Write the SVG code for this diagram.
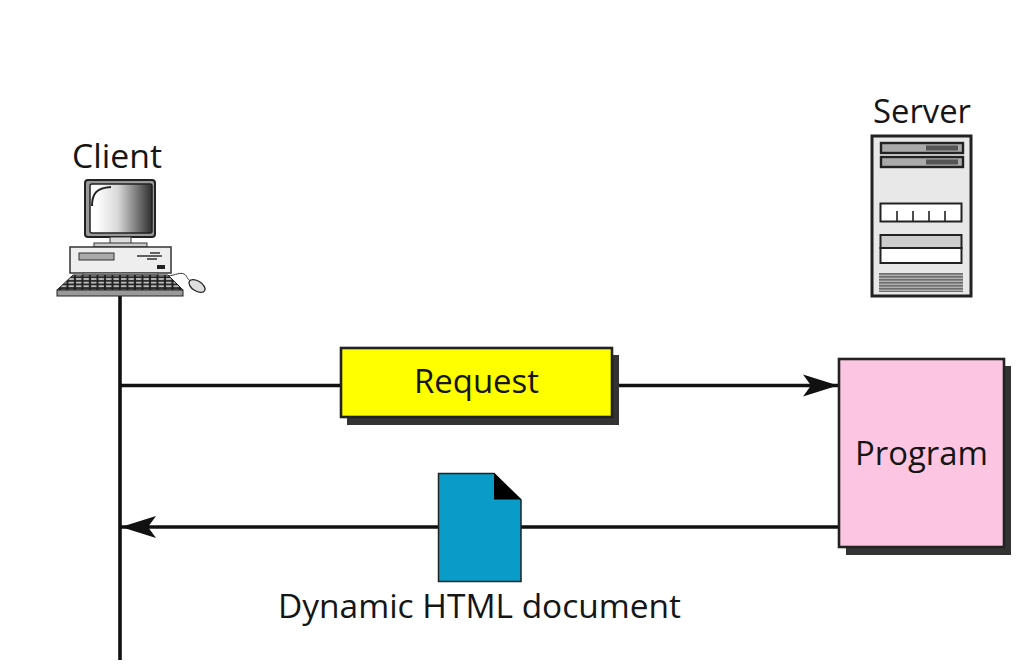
<svg xmlns="http://www.w3.org/2000/svg" width="1026" height="668" viewBox="0 0 1026 668">
<style>
.t{font-family:"Open Sans","Noto Sans","Liberation Sans",sans-serif;font-size:33.5px;fill:#151515}
.c{stroke:#111;stroke-width:3.6;fill:none}
.box{stroke:#222;stroke-width:2.6}
.sh{fill:#333}
</style>
<defs>
<linearGradient id="scr" x1="0" x2="1" y1="0" y2="0"><stop offset="0.1" stop-color="#fff"/><stop offset="0.45" stop-color="#d8d8d8"/><stop offset="1" stop-color="#2e2e2e"/></linearGradient>
<pattern id="keys" width="7.5" height="3.6" patternUnits="userSpaceOnUse"><rect width="7.5" height="3.6" fill="#222"/><rect x="1" y="0.9" width="5.4" height="1.9" fill="#bbb"/></pattern>
<pattern id="grille" width="4" height="3" patternUnits="userSpaceOnUse"><rect width="4" height="3" fill="#b0b0b0"/><rect width="4" height="1.6" fill="#6e6e6e"/></pattern>
<marker id="arrow" markerUnits="userSpaceOnUse" markerWidth="36" markerHeight="24" refX="35" refY="12" orient="auto-start-reverse"><path d="M0 1 L35 12 L0 23 L8 12 Z" fill="#111"/></marker>
</defs>
<rect width="1026" height="668" fill="#fff"/>
<g id="connectors">
<path class="c" d="M120 296V660"/>
<path class="c" d="M120 385.500H838" marker-end="url(#arrow)"/>
<path class="c" d="M838 527H121" marker-end="url(#arrow)"/>
</g>
<g id="client">
<rect x="85" y="180" width="70" height="57" rx="3" fill="#999" stroke="#222" stroke-width="2"/>
<rect x="90" y="184" width="62" height="49" rx="2" fill="url(#scr)" stroke="#222" stroke-width="1.5"/>
<path d="M92 206C92 194 96 188 111 187" fill="none" stroke="#222" stroke-width="2"/>
<rect x="110" y="237" width="21" height="7" fill="#ddd" stroke="#333"/>
<rect x="94" y="243" width="53" height="4" fill="#ccc" stroke="#333"/>
<rect x="70" y="247" width="101" height="26" fill="#eee" stroke="#333" stroke-width="1.5"/>
<rect x="79" y="253" width="35" height="7" fill="#aaa" stroke="#333"/>
<path d="M137 256H162M147 259H157M150 253L160 253" stroke="#333" stroke-width="1.5" fill="none"/>
<rect x="157" y="265" width="8" height="4" fill="#222"/>
<rect x="83" y="273" width="75" height="3" fill="#aaa" stroke="#444" stroke-width="0.8"/>
<path d="M73 275H168L183 290H57Z" fill="url(#keys)" stroke="#222"/>
<rect x="57" y="290" width="126" height="6" fill="#999" stroke="#222"/>
<path d="M168 276C176 275 180 272 184 274C188 276 186 279 191 281" fill="none" stroke="#333" stroke-width="1"/>
<ellipse cx="197" cy="286" rx="9" ry="5" transform="rotate(32 197 286)" fill="#ddd" stroke="#222" stroke-width="1.3"/>
<text class="t" x="72" y="168" textLength="90" lengthAdjust="spacingAndGlyphs">Client</text>
</g>
<g id="server">
<rect x="872" y="136" width="99" height="160" fill="#e8e8e8" stroke="#222" stroke-width="3"/>
<rect x="881" y="143" width="82" height="10" fill="#aaa" stroke="#222" stroke-width="2.400"/>
<rect x="926" y="145.500" width="32" height="5" fill="#555"/>
<rect x="881" y="157" width="82" height="10" fill="#aaa" stroke="#222" stroke-width="2.400"/>
<rect x="926" y="159.500" width="32" height="5" fill="#555"/>
<rect x="880.500" y="203.500" width="81" height="18" fill="#fff" stroke="#222" stroke-width="2"/>
<path d="M897 211V221M913 211V221M929 211V221M945 211V221" stroke="#222" stroke-width="1.600"/>
<rect x="880.500" y="235" width="81" height="13" fill="#ccc" stroke="#222" stroke-width="2"/>
<rect x="880.500" y="248" width="81" height="15" fill="#fff" stroke="#222" stroke-width="2"/>
<rect x="879" y="273" width="84" height="19" fill="url(#grille)"/>
<text class="t" x="873" y="123" textLength="98" lengthAdjust="spacingAndGlyphs">Server</text>
</g>
<g id="request">
<rect class="sh" x="347" y="355" width="272" height="70"/>
<rect class="box" x="341" y="348" width="271" height="69" fill="#ff0"/>
<text class="t" x="414" y="393" textLength="125" lengthAdjust="spacingAndGlyphs">Request</text>
</g>
<g id="program">
<rect class="sh" x="846" y="366" width="165" height="189"/>
<rect class="box" x="839" y="359" width="165" height="188" fill="#fcc6e2"/>
<text class="t" x="855" y="465" textLength="133" lengthAdjust="spacingAndGlyphs">Program</text>
</g>
<g id="document">
<path d="M438.500 473.500H494L521 500V581.500H438.500Z" fill="#0a9cc8" stroke="#222" stroke-width="1.500"/>
<path d="M494 473L521.500 499.500H494Z" fill="#000"/>
<text class="t" x="278" y="618" textLength="403" lengthAdjust="spacingAndGlyphs">Dynamic HTML document</text>
</g>
</svg>
